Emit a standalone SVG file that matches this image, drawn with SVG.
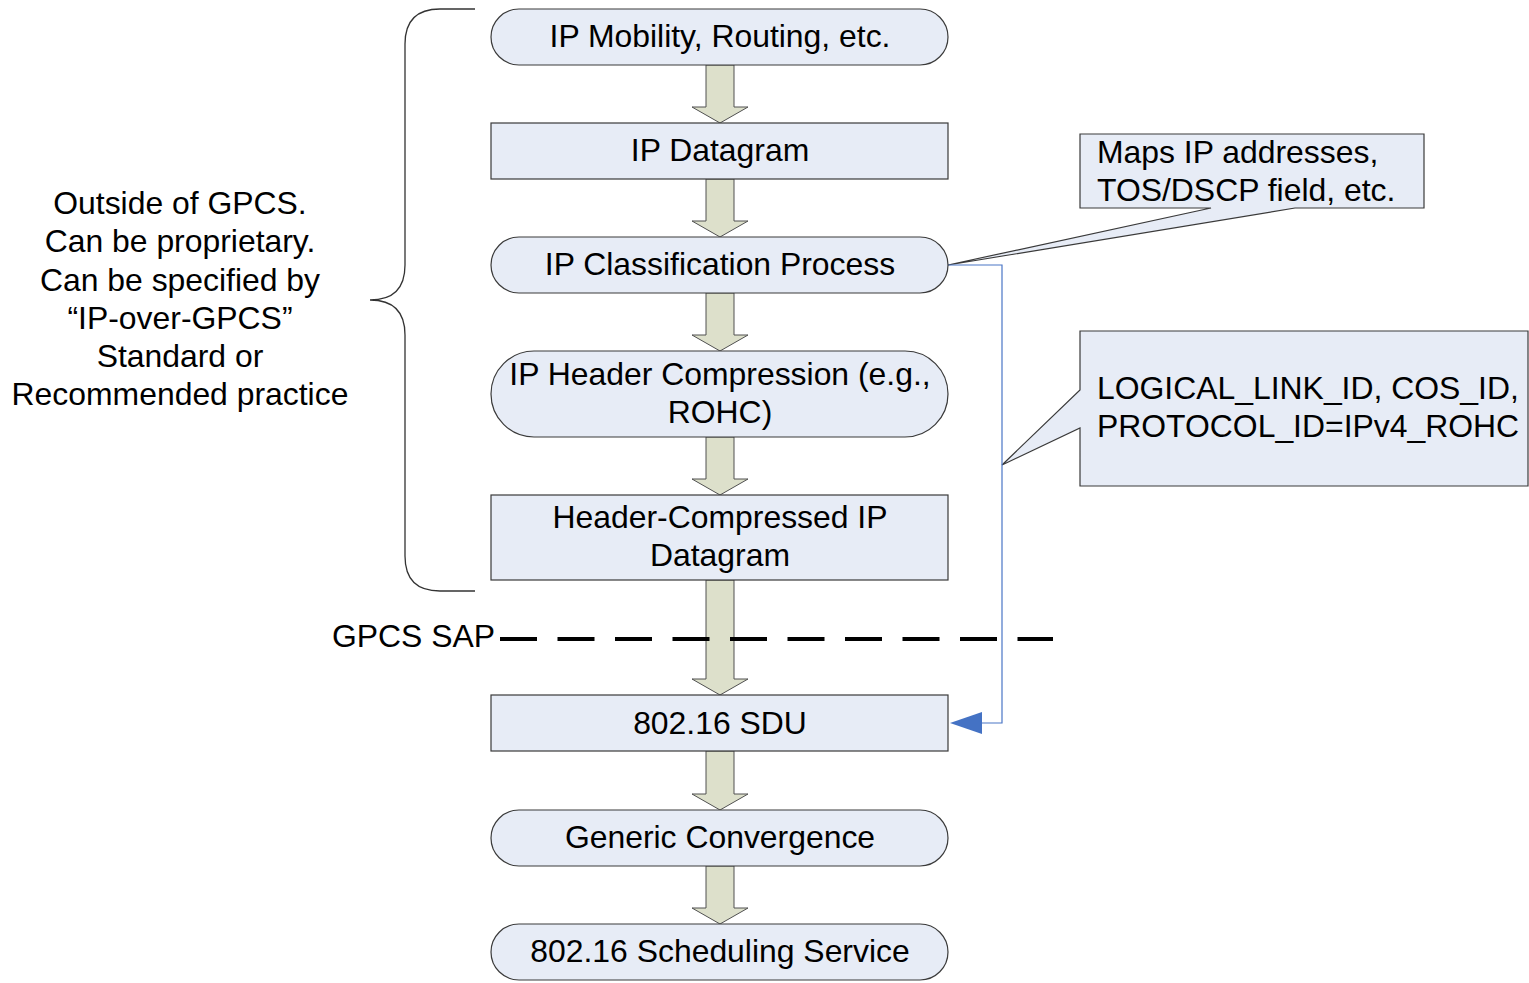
<svg xmlns="http://www.w3.org/2000/svg" width="1529" height="983" viewBox="0 0 1529 983">
<style>
.n{fill:#e7ecf6;stroke:#3a3a3a;stroke-width:1.2}
.t{font-family:"Liberation Sans",Arial,sans-serif;font-size:31.9px;fill:#000}
.c{text-anchor:middle}
.a{fill:#dde0cb;stroke:#505050;stroke-width:1}
</style>
<rect width="1529" height="983" fill="#fff"/>
<g id="brace">
<path d="M475,9 L440,9 Q405,9 405,44 L405,265 Q405,300 370,300 Q405,300 405,335 L405,556 Q405,591 440,591 L475,591" fill="none" stroke="#333" stroke-width="1.3"/>
</g>
<g id="outside-text" class="t c">
<text x="180" y="214">Outside of GPCS.</text>
<text x="180" y="252">Can be proprietary.</text>
<text x="180" y="291">Can be specified by</text>
<text x="180" y="329">“IP-over-GPCS”</text>
<text x="180" y="367">Standard or</text>
<text x="180" y="405">Recommended practice</text>
</g>
<g id="callout1">
<path class="n" d="M1080,134 L1424,134 L1424,208 L1295,208 L948,265 L1211,208 L1080,208 Z"/>
<text class="t" x="1097" y="163">Maps IP addresses,</text>
<text class="t" x="1097" y="201">TOS/DSCP field, etc.</text>
</g>
<g id="callout2">
<path class="n" d="M1080,331 L1528,331 L1528,486 L1080,486 L1080,428 L1002,465 L1080,390 Z"/>
<text class="t" x="1097" y="399">LOGICAL_LINK_ID, COS_ID,</text>
<text class="t" x="1097" y="437">PROTOCOL_ID=IPv4_ROHC</text>
</g>
<g id="connectors">
<path class="a" d="M706,65 L734,65 L734,107 L748,107 L720,123 L692,107 L706,107 Z"/>
<path class="a" d="M706,179 L734,179 L734,221 L748,221 L720,237 L692,221 L706,221 Z"/>
<path class="a" d="M706,293 L734,293 L734,335 L748,335 L720,351 L692,335 L706,335 Z"/>
<path class="a" d="M706,437 L734,437 L734,479 L748,479 L720,495 L692,479 L706,479 Z"/>
<path class="a" d="M706,580 L734,580 L734,679 L748,679 L720,695 L692,679 L706,679 Z"/>
<path class="a" d="M706,751 L734,751 L734,794 L748,794 L720,810 L692,794 L706,794 Z"/>
<path class="a" d="M706,866 L734,866 L734,908 L748,908 L720,924 L692,908 L706,908 Z"/>
<path d="M948,265 L1002,265 L1002,723 L980,723" fill="none" stroke="#4a76c6" stroke-width="1.2"/>
<polygon points="950,723 982,712 982,734" fill="#4472c4"/>
</g>
<g id="sap">
<line x1="500" y1="639" x2="1053" y2="639" stroke="#000" stroke-width="4" stroke-dasharray="37 20.5"/>
<text class="t" x="495" y="647" text-anchor="end">GPCS SAP</text>
</g>
<g id="n1"><rect class="n" x="491" y="9" width="457" height="56" rx="28"/><text class="t c" x="720" y="47">IP Mobility, Routing, etc.</text></g>
<g id="n2"><rect class="n" x="491" y="123" width="457" height="56"/><text class="t c" x="720" y="161">IP Datagram</text></g>
<g id="n3"><rect class="n" x="491" y="237" width="457" height="56" rx="28"/><text class="t c" x="720" y="275">IP Classification Process</text></g>
<g id="n4"><rect class="n" x="491" y="351" width="457" height="86" rx="43"/><text class="t c" x="720" y="385">IP Header Compression (e.g.,</text><text class="t c" x="720" y="423">ROHC)</text></g>
<g id="n5"><rect class="n" x="491" y="495" width="457" height="85"/><text class="t c" x="720" y="528">Header-Compressed IP</text><text class="t c" x="720" y="566">Datagram</text></g>
<g id="n6"><rect class="n" x="491" y="695" width="457" height="56"/><text class="t c" x="720" y="734">802.16 SDU</text></g>
<g id="n7"><rect class="n" x="491" y="810" width="457" height="56" rx="28"/><text class="t c" x="720" y="848">Generic Convergence</text></g>
<g id="n8"><rect class="n" x="491" y="924" width="457" height="56" rx="28"/><text class="t c" x="720" y="962">802.16 Scheduling Service</text></g>
</svg>
